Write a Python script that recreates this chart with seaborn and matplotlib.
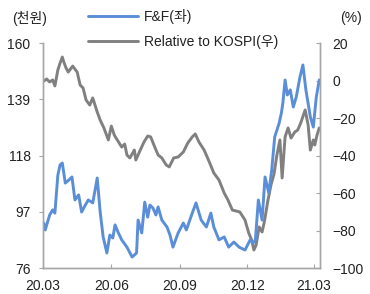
import matplotlib
matplotlib.use("Agg")
import matplotlib.pyplot as plt
import matplotlib.dates as mdates
import pandas as pd
import seaborn as sns

# F&F 주가 (천원, 좌축)
ff_dates = [
    "2020-03-02", "2020-03-04", "2020-03-10", "2020-03-14", "2020-03-17", "2020-03-21",
    "2020-03-24", "2020-03-27", "2020-03-31", "2020-04-05", "2020-04-09", "2020-04-13",
    "2020-04-18", "2020-04-22", "2020-04-27", "2020-05-01", "2020-05-07", "2020-05-13",
    "2020-05-17", "2020-05-21", "2020-05-26", "2020-05-30", "2020-06-03", "2020-06-06",
    "2020-06-10", "2020-06-15", "2020-06-22", "2020-06-29", "2020-07-05", "2020-07-07",
    "2020-07-12", "2020-07-16", "2020-07-20", "2020-07-23", "2020-07-27", "2020-07-31",
    "2020-08-03", "2020-08-08", "2020-08-15", "2020-08-19", "2020-08-23", "2020-08-30",
    "2020-09-06", "2020-09-10", "2020-09-18", "2020-09-23", "2020-09-30", "2020-10-07",
    "2020-10-13", "2020-10-17", "2020-10-24", "2020-10-31", "2020-11-06", "2020-11-13",
    "2020-11-20", "2020-11-28", "2020-12-05", "2020-12-09", "2020-12-12", "2020-12-16",
    "2020-12-21", "2020-12-25", "2020-12-30", "2021-01-03", "2021-01-07", "2021-01-13",
    "2021-01-16", "2021-01-18", "2021-01-21", "2021-01-24", "2021-01-28", "2021-02-01",
    "2021-02-05", "2021-02-10", "2021-02-14", "2021-02-18", "2021-02-24", "2021-02-28",
    "2021-03-04", "2021-03-08",
]
ff_price = [
    92.8, 90.2, 95.8, 97.7, 96.5, 110.7,
    114.5, 115.2, 107.7, 108.9, 110.0, 101.4,
    103.3, 96.9, 99.5, 101.4, 100.3, 109.6,
    96.9, 87.6, 81.6, 88.3, 87.2, 92.1,
    89.4, 86.5, 83.8, 80.1, 81.6, 93.9,
    89.1, 100.6, 95.0, 99.5, 98.4, 95.8,
    98.8, 93.9, 91.3, 88.3, 83.8, 89.1,
    92.8, 90.2, 96.5, 100.3, 93.9, 91.3,
    96.5, 91.3, 86.5, 87.6, 83.8, 85.7,
    83.8, 82.7, 86.5, 85.3, 86.5, 101.4,
    93.9, 110.0, 104.0, 112.6, 124.9, 130.1,
    133.9, 137.6, 146.2, 140.6, 142.5, 136.1,
    139.8, 147.3, 151.8, 142.5, 132.4, 128.6,
    139.8, 146.2,
]

# KOSPI 대비 상대수익률 (%, 우축)
rel_dates = [
    "2020-03-02", "2020-03-06", "2020-03-10", "2020-03-14", "2020-03-17", "2020-03-21",
    "2020-03-24", "2020-03-27", "2020-03-29", "2020-04-01", "2020-04-04", "2020-04-06",
    "2020-04-10", "2020-04-16", "2020-04-20", "2020-04-24", "2020-04-28", "2020-05-03",
    "2020-05-07", "2020-05-13", "2020-05-17", "2020-05-22", "2020-05-28", "2020-06-01",
    "2020-06-05", "2020-06-09", "2020-06-15", "2020-06-19", "2020-06-22", "2020-06-26",
    "2020-07-02", "2020-07-04", "2020-07-10", "2020-07-15", "2020-07-20", "2020-07-24",
    "2020-07-30", "2020-08-03", "2020-08-08", "2020-08-14", "2020-08-18", "2020-08-24",
    "2020-08-30", "2020-09-06", "2020-09-12", "2020-09-18", "2020-09-22", "2020-09-27",
    "2020-10-04", "2020-10-11", "2020-10-17", "2020-10-24", "2020-10-31", "2020-11-05",
    "2020-11-11", "2020-11-16", "2020-11-21", "2020-11-28", "2020-12-03", "2020-12-07",
    "2020-12-10", "2020-12-13", "2020-12-17", "2020-12-21", "2020-12-24", "2020-12-29",
    "2021-01-02", "2021-01-06", "2021-01-10", "2021-01-14", "2021-01-17", "2021-01-21",
    "2021-01-25", "2021-01-29", "2021-02-03", "2021-02-07", "2021-02-11", "2021-02-17",
    "2021-02-21", "2021-02-24", "2021-02-28", "2021-03-02", "2021-03-05", "2021-03-08",
]
rel_kospi = [
    -0.3, 0.8, -0.8, 0.3, -2.9, 5.6,
    9.3, 12.5, 9.9, 6.7, 4.5, 5.6,
    7.7, 4.5, -2.4, -4.0, -10.4, -13.1,
    -9.3, -16.8, -21.1, -25.3, -31.7, -24.3,
    -29.1, -31.7, -35.5, -33.9, -39.7, -41.3,
    -37.1, -42.4, -37.1, -32.8, -29.6, -30.1,
    -36.0, -39.7, -41.3, -45.1, -46.1, -41.3,
    -40.8, -38.1, -33.3, -30.1, -28.5, -32.8,
    -37.1, -43.5, -49.3, -53.1, -60.0, -63.7,
    -69.1, -69.6, -70.1, -74.4, -81.3, -85.1,
    -90.4, -87.7, -78.1, -80.8, -75.5, -63.7,
    -55.7, -50.0, -39.7, -31.7, -52.0, -30.1,
    -25.3, -30.7, -27.5, -26.4, -22.7, -15.7,
    -23.7, -37.1, -31.7, -34.4, -29.1, -25.3,
]

left_ticks = [76, 97, 118, 139, 160]
right_ticks = [-100, -80, -60, -40, -20, 0, 20]

blue = "#5a8ed8"
gray = "#808080"
spine_c = "#a6a6a6"

sns.set_style("white")
plt.rcParams['font.family'] = ['Liberation Sans', 'Noto Sans CJK KR']
plt.rcParams['axes.unicode_minus'] = True

fig = plt.figure(figsize=(3.7, 2.94), dpi=100)
ax = fig.add_axes([43 / 370, 1 - 268 / 294, 277 / 370, 225 / 294])
ax2 = ax.twinx()

ff = pd.DataFrame({"date": pd.to_datetime(ff_dates), "v": ff_price})
rel = pd.DataFrame({"date": pd.to_datetime(rel_dates), "v": rel_kospi})

sns.lineplot(data=ff, x="date", y="v", ax=ax, color=blue, lw=2.1, label="F&F(좌)")
sns.lineplot(data=rel, x="date", y="v", ax=ax2, color=gray, lw=2.1,
             label="Relative to KOSPI(우)")
ax.set_zorder(ax2.get_zorder() + 1)
ax.patch.set_visible(False)

ax.set_xlim(pd.Timestamp("2020-03-01"), pd.Timestamp("2021-03-09"))
ax.set_ylim(76, 160)
ax2.set_ylim(-100, 20)
ax.set_yticks(left_ticks)
ax2.set_yticks(right_ticks)
ax.set_xticks(pd.to_datetime(["2020-03-01", "2020-06-01", "2020-09-01",
                              "2020-12-01", "2021-03-01"]))
ax.xaxis.set_major_formatter(mdates.DateFormatter("%y.%m"))
ax.set_xlabel("")
ax.set_ylabel("")
ax2.set_ylabel("")

for a in (ax, ax2):
    for s in a.spines.values():
        s.set_color(spine_c)
        s.set_linewidth(1.0)
    a.spines["top"].set_visible(False)
ax.tick_params(axis="y", direction="out", length=3, color=spine_c, pad=6,
               labelsize=10, labelcolor="#222222", left=True)
ax.tick_params(axis="x", direction="in", length=3, color=spine_c, pad=8,
               labelsize=10, labelcolor="#222222", bottom=True)
ax2.tick_params(axis="y", direction="in", length=3, color=spine_c, pad=9,
                labelsize=10, labelcolor="#222222", right=True)

h1, l1 = ax.get_legend_handles_labels()
h2, l2 = ax2.get_legend_handles_labels()
ax.get_legend().remove()
ax2.get_legend().remove()
leg = fig.legend(h1 + h2, l1 + l2, loc="upper left", bbox_to_anchor=(88 / 370, 1 - 9 / 294),
                 frameon=False, fontsize=10, handlelength=3.6, handletextpad=0.4,
                 labelspacing=0.8, borderpad=0, borderaxespad=0)
for t in leg.get_texts():
    t.set_color("#222222")

fig.text(12 / 370, 1 - 18 / 294, "(천원)", fontsize=10, color="#222222",
         ha="left", va="center")
fig.text(351 / 370, 1 - 18 / 294, "(%)", fontsize=10, color="#222222",
         ha="center", va="center")

fig.savefig("out.png", dpi=100)
